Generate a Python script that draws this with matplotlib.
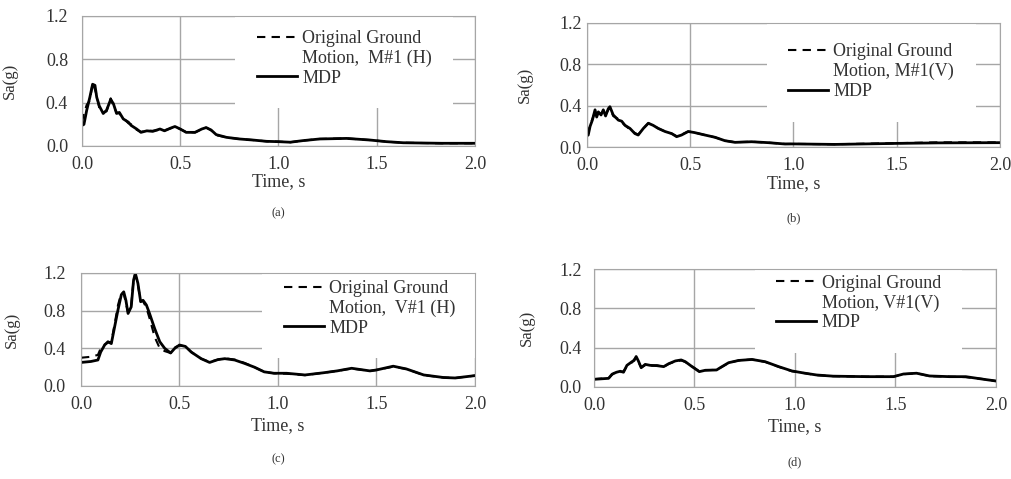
import matplotlib
matplotlib.use("Agg")
import matplotlib.pyplot as plt
from matplotlib.lines import Line2D

plt.rcParams["font.family"] = "serif"
plt.rcParams["font.serif"] = ["Liberation Serif", "DejaVu Serif"]

# (a) M#1 horizontal
t_a = [0.0, 0.01, 0.024, 0.04, 0.054, 0.066, 0.075, 0.088, 0.108, 0.125, 0.146, 0.16,
       0.176, 0.19, 0.21, 0.236, 0.25, 0.278, 0.30, 0.33, 0.36, 0.397, 0.42, 0.448,
       0.473, 0.50, 0.53, 0.575, 0.61, 0.632, 0.657, 0.683, 0.735, 0.80, 0.87, 0.94,
       1.0, 1.06, 1.126, 1.21, 1.347, 1.466, 1.55, 1.635, 1.83, 2.0]
mdp_a = [0.19, 0.20, 0.33, 0.45, 0.57, 0.56, 0.45, 0.37, 0.30, 0.33, 0.43, 0.39,
         0.30, 0.31, 0.25, 0.22, 0.19, 0.157, 0.126, 0.14, 0.135, 0.157, 0.14, 0.163,
         0.18, 0.157, 0.126, 0.126, 0.157, 0.17, 0.148, 0.105, 0.08, 0.065, 0.055, 0.043,
         0.04, 0.035, 0.05, 0.065, 0.07, 0.055, 0.04, 0.03, 0.025, 0.025]
orig_a = [0.22, 0.30, 0.38, 0.42, 0.58, 0.52, 0.47, 0.35, 0.31, 0.32, 0.44, 0.37,
          0.31, 0.30, 0.26, 0.21, 0.20, 0.15, 0.13, 0.14, 0.14, 0.15, 0.145, 0.16,
          0.18, 0.155, 0.13, 0.125, 0.155, 0.17, 0.145, 0.10, 0.08, 0.065, 0.055, 0.043,
          0.04, 0.035, 0.05, 0.065, 0.07, 0.055, 0.04, 0.03, 0.025, 0.025]

# (b) M#1 vertical
t_b = [0.0, 0.006, 0.015, 0.026, 0.039, 0.047, 0.055, 0.068, 0.079, 0.09, 0.103, 0.111,
       0.127, 0.152, 0.168, 0.184, 0.208, 0.232, 0.248, 0.273, 0.297, 0.32, 0.345, 0.378,
       0.41, 0.434, 0.458, 0.49, 0.52, 0.571, 0.62, 0.668, 0.717, 0.797, 0.878, 0.959,
       1.0, 1.2, 1.5, 1.7, 2.0]
mdp_b = [0.11, 0.116, 0.20, 0.26, 0.36, 0.29, 0.34, 0.31, 0.36, 0.30, 0.37, 0.39,
         0.31, 0.26, 0.25, 0.21, 0.18, 0.13, 0.116, 0.18, 0.23, 0.21, 0.18, 0.15,
         0.13, 0.10, 0.116, 0.15, 0.14, 0.116, 0.094, 0.061, 0.045, 0.051, 0.042, 0.029,
         0.03, 0.025, 0.035, 0.04, 0.042]
orig_b = [0.12, 0.13, 0.22, 0.27, 0.34, 0.30, 0.33, 0.32, 0.35, 0.31, 0.36, 0.38,
          0.30, 0.27, 0.24, 0.21, 0.17, 0.135, 0.12, 0.18, 0.23, 0.21, 0.18, 0.15,
          0.13, 0.105, 0.12, 0.15, 0.14, 0.116, 0.094, 0.061, 0.047, 0.051, 0.042, 0.03,
          0.03, 0.027, 0.037, 0.045, 0.045]

# (c) V#1 horizontal
t_c = [0.0, 0.05, 0.086, 0.10, 0.12, 0.137, 0.154, 0.171, 0.188, 0.205, 0.217, 0.228,
       0.239, 0.255, 0.267, 0.276, 0.289, 0.303, 0.315, 0.332, 0.348, 0.374, 0.40, 0.425,
       0.455, 0.476, 0.50, 0.53, 0.56, 0.61, 0.653, 0.695, 0.73, 0.78, 0.83, 0.88,
       0.93, 0.98, 1.044, 1.137, 1.23, 1.30, 1.374, 1.467, 1.50, 1.585, 1.653, 1.74,
       1.84, 1.90, 2.0]
mdp_c = [0.25, 0.26, 0.276, 0.36, 0.435, 0.47, 0.45, 0.63, 0.81, 0.97, 1.0, 0.91,
         0.77, 0.84, 1.125, 1.196, 1.09, 0.895, 0.91, 0.86, 0.77, 0.61, 0.47, 0.40,
         0.35, 0.40, 0.435, 0.42, 0.36, 0.29, 0.25, 0.28, 0.29, 0.276, 0.24, 0.20,
         0.15, 0.135, 0.135, 0.117, 0.14, 0.16, 0.188, 0.16, 0.17, 0.21, 0.18, 0.117,
         0.09, 0.085, 0.11]
orig_c = [0.30, 0.31, 0.33, 0.40, 0.44, 0.46, 0.47, 0.66, 0.86, 0.99, 0.98, 0.88,
          0.78, 0.86, 1.13, 1.19, 1.07, 0.90, 0.90, 0.83, 0.72, 0.52, 0.40, 0.37,
          0.35, 0.41, 0.43, 0.42, 0.36, 0.29, 0.255, 0.28, 0.295, 0.28, 0.245, 0.20,
          0.15, 0.135, 0.13, 0.115, 0.14, 0.16, 0.185, 0.16, 0.17, 0.205, 0.18, 0.115,
          0.09, 0.085, 0.11]

# (d) V#1 vertical
t_d = [0.0, 0.073, 0.09, 0.112, 0.131, 0.147, 0.164, 0.189, 0.2, 0.21, 0.222, 0.235,
       0.255, 0.28, 0.313, 0.347, 0.372, 0.405, 0.434, 0.454, 0.488, 0.524, 0.554, 0.61,
       0.637, 0.67, 0.72, 0.786, 0.852, 0.919, 0.985, 1.05, 1.108, 1.19, 1.357, 1.49,
       1.54, 1.605, 1.67, 1.77, 1.85, 1.94, 2.0]
mdp_d = [0.078, 0.088, 0.13, 0.15, 0.16, 0.15, 0.22, 0.257, 0.27, 0.31, 0.26, 0.196,
         0.23, 0.22, 0.217, 0.207, 0.237, 0.265, 0.275, 0.258, 0.207, 0.156, 0.17, 0.173,
         0.207, 0.247, 0.27, 0.28, 0.257, 0.207, 0.163, 0.14, 0.122, 0.11, 0.105, 0.105,
         0.132, 0.14, 0.112, 0.105, 0.105, 0.078, 0.061]
orig_d = [0.08, 0.09, 0.125, 0.16, 0.15, 0.16, 0.21, 0.25, 0.28, 0.30, 0.25, 0.20,
          0.22, 0.215, 0.22, 0.205, 0.235, 0.26, 0.27, 0.255, 0.21, 0.16, 0.17, 0.175,
          0.205, 0.245, 0.27, 0.28, 0.255, 0.205, 0.16, 0.14, 0.12, 0.11, 0.105, 0.105,
          0.13, 0.14, 0.11, 0.105, 0.1, 0.08, 0.06]

x_ticks = [0.0, 0.5, 1.0, 1.5, 2.0]
y_ticks = [0.0, 0.4, 0.8, 1.2]

panels = [
    # data, motion label, axes rect, caption, caption y, ylabel x, ytick pad, xlabel pad, legend anchor
    ((t_a, orig_a, mdp_a), "Motion,  M#1 (H)", [0.0811, 0.6952, 0.3887, 0.2714], "(a)", 0.555, -0.163, 10, 0, (0.39, 1.06)),
    ((t_b, orig_b, mdp_b), "Motion, M#1(V)", [0.5806, 0.6931, 0.4085, 0.2589], "(b)", 0.545, -0.131, 4, 1, (0.435, 1.01)),
    ((t_c, orig_c, mdp_c), "Motion,  V#1 (H)", [0.0801, 0.1942, 0.3897, 0.2359], "(c)", 0.042, -0.155, 11, 3, (0.46, 1.13)),
    ((t_d, orig_d, mdp_d), "Motion, V#1(V)", [0.5875, 0.1921, 0.3976, 0.2463], "(d)", 0.035, -0.147, 9, 3, (0.40, 1.135)),
]

fig = plt.figure(figsize=(10.11, 4.79), dpi=100)
grid_color = "#a6a6a6"

for (t, orig, mdp), motion, rect, caption, cap_y, ylab_x, ypad, xpad, anchor in panels:
    ax = fig.add_axes(rect)
    ax.plot(t, orig, color="black", lw=1.5, ls=(0, (4, 3)))
    ax.plot(t, mdp, color="black", lw=2.0)
    ax.set_xlim(0, 2)
    ax.set_ylim(0, 1.2)
    ax.set_xticks(x_ticks)
    ax.set_yticks(y_ticks)
    ax.set_xticklabels([f"{v:.1f}" for v in x_ticks])
    ax.set_yticklabels([f"{v:.1f}" for v in y_ticks])
    ax.tick_params(length=0, labelsize=13, colors="#333333")
    ax.tick_params(axis="y", pad=ypad)
    ax.tick_params(axis="x", pad=7)
    ax.grid(True, color=grid_color, lw=1.0)
    ax.set_axisbelow(True)
    for sp in ax.spines.values():
        sp.set_color(grid_color)
        sp.set_zorder(6)
    ax.set_xlabel("Time, s", fontsize=13, color="#333333", labelpad=xpad)
    ax.set_ylabel("Sa(g)", fontsize=12, color="#333333")
    ax.yaxis.set_label_coords(ylab_x, 0.5)

    handles = [
        Line2D([], [], color="black", lw=1.5, ls=(0, (4, 3))),
        Line2D([], [], color="none"),
        Line2D([], [], color="black", lw=2.0),
    ]
    leg = ax.legend(handles, ["Original Ground", motion, "MDP"], loc="upper left",
                    bbox_to_anchor=anchor, borderaxespad=0, borderpad=1.2,
                    fontsize=13, frameon=True, framealpha=1, facecolor="white",
                    edgecolor="none", fancybox=False, handlelength=2.2,
                    handletextpad=0.3, labelspacing=0.15)
    for txt in leg.get_texts():
        txt.set_color("#333333")

    fig.text(rect[0] + rect[2] / 2, cap_y, caption, ha="center", va="center",
             fontsize=9, color="#333333")

fig.savefig("out.png", dpi=100)
